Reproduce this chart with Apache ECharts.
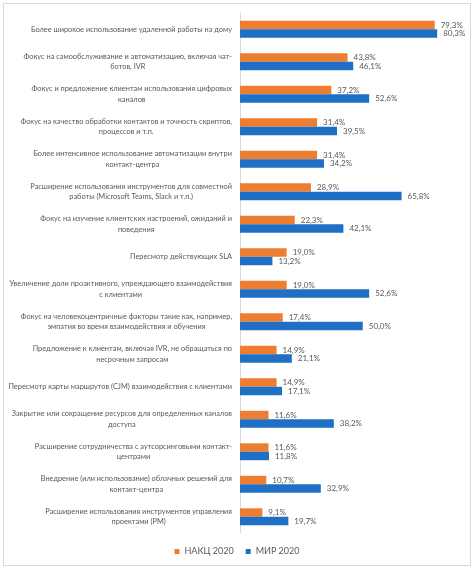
<!DOCTYPE html>
<html><head><meta charset="utf-8">
<script src="https://cdn.jsdelivr.net/npm/echarts@6/dist/echarts.min.js"></script>
<style>html,body{margin:0;padding:0;background:#fff}
#frame{position:absolute;left:3px;top:3px;width:466px;height:561px;border:1px solid #d9d9d9}
#c{position:absolute;left:0;top:0;width:474px;height:570px}</style>
</head><body><div id="frame"></div><div id="c"></div>
<script>
var categories = [
"Более широкое использование удаленной работы на дому",
"Фокус на самообслуживание и автоматизацию, включая чат-\nботов, IVR",
"Фокус и предложение клиентам использования цифровых\nканалов",
"Фокус на качество обработки контактов и точность скриптов,\nпроцессов и т.п.",
"Более интенсивное использование автоматизации внутри\nконтакт-центра",
"Расширение использования инструментов для совместной\nработы (Microsoft Teams, Slack и т.п.)",
"Фокус на изучение клиентских настроений, ожиданий и\nповедения",
"Пересмотр действующих SLA",
"Увеличение доли проактивного, упреждающего взаимодействия\nс клиентами",
"Фокус на человекоцентричные факторы такие как, например,\nэмпатия во время взаимодействия и обучения",
"Предложение к клиентам, включая IVR, не обращаться по\nнесрочным запросам",
"Пересмотр карты маршрутов (CJM) взаимодействия с клиентами",
"Закрытие или сокращение ресурсов для определенных каналов\nдоступа",
"Расширение сотрудничества с аутсорсинговыми контакт-\nцентрами",
"Внедрение (или использование) облачных решений для\nконтакт-центра",
"Расширение использования инструментов управления\nпроектами (PM)"
];
var nakc2020 = [79.3, 43.8, 37.2, 31.4, 31.4, 28.9, 22.3, 19.0, 19.0, 17.4, 14.9, 14.9, 11.6, 11.6, 10.7, 9.1];
var mir2020 = [80.3, 46.1, 52.6, 39.5, 34.2, 65.8, 42.1, 13.2, 52.6, 50.0, 21.1, 17.1, 38.2, 11.8, 32.9, 19.7];
var seriesNames = ["НАКЦ 2020", "МИР 2020"];

var fam = 'Lato, "Liberation Sans", sans-serif';
// fit category label font so the widest line spans ~224px like the reference
var ctx = document.createElement('canvas').getContext('2d');
ctx.font = '10px ' + fam;
var maxW = 0;
categories.forEach(function(c){ c.split('\n').forEach(function(l){ maxW = Math.max(maxW, ctx.measureText(l).width); }); });
var catFont = Math.min(9.5, 10 * 224 / maxW);

var chart = echarts.init(document.getElementById('c'), null, {renderer:'canvas'});
function pct(p){ return p.value.toFixed(1).replace('.', ',') + '%'; }
var labelCfg = {show:true, position:'right', distance:6, formatter:pct, fontSize:8, color:'#595959', fontFamily:fam};
chart.setOption({
  animation:false,
  grid:{left:240, right:13, top:13, bottom:37, containLabel:false, outerBoundsMode:'none'},
  xAxis:{type:'value', min:0, max:90, show:false},
  yAxis:{type:'category', data:categories, inverse:true,
    axisLine:{show:true, lineStyle:{color:'#d9d9d9'}}, axisTick:{show:false},
    axisLabel:{margin:8, fontSize:catFont, color:'#595959', fontFamily:fam, lineHeight:10.5, interval:0,
      formatter:function(v){ return v.split('\n').map(function(l){return '{c|'+l+'}';}).join('\n'); },
      rich:{c:{align:'center', fontSize:catFont, color:'#595959', fontFamily:fam, lineHeight:10.5}}}
  },
  legend:{top:547, left:'center', itemWidth:5, itemHeight:5, itemGap:12, icon:'rect', padding:0,
    textStyle:{fontSize:9, color:'#595959', fontFamily:fam}},
  series:[
    {name:seriesNames[0], type:'bar', data:nakc2020, itemStyle:{color:'#ED7D31'}, barGap:'0%', barCategoryGap:'48%', label:labelCfg},
    {name:seriesNames[1], type:'bar', data:mir2020, itemStyle:{color:'#1F6FC5'}, barGap:'0%', barCategoryGap:'48%', label:labelCfg}
  ]
});
</script></body></html>
